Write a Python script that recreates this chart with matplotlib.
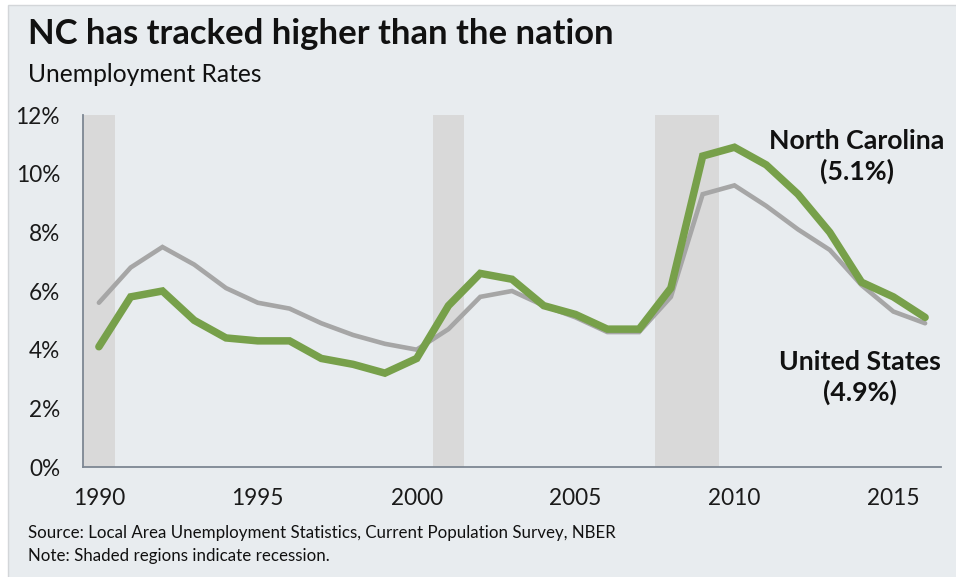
import matplotlib
matplotlib.use("Agg")
import matplotlib.pyplot as plt
from matplotlib.patches import Rectangle

years = list(range(1990, 2017))
nc_rate = [4.1, 5.8, 6.0, 5.0, 4.4, 4.3, 4.3, 3.7, 3.5, 3.2, 3.7, 5.5, 6.6, 6.4,
           5.5, 5.2, 4.7, 4.7, 6.1, 10.6, 10.9, 10.3, 9.3, 8.0, 6.3, 5.8, 5.1]
us_rate = [5.6, 6.8, 7.5, 6.9, 6.1, 5.6, 5.4, 4.9, 4.5, 4.2, 4.0, 4.7, 5.8, 6.0,
           5.5, 5.1, 4.6, 4.6, 5.8, 9.3, 9.6, 8.9, 8.1, 7.4, 6.2, 5.3, 4.9]
recessions = [(1989.5, 1990.5), (2000.5, 2001.5), (2007.5, 2009.5)]
y_ticks = [0, 2, 4, 6, 8, 10, 12]
x_ticks = [1990, 1995, 2000, 2005, 2010, 2015]

title = "NC has tracked higher than the nation"
subtitle = "Unemployment Rates"
source = "Source: Local Area Unemployment Statistics, Current Population Survey, NBER"
note = "Note: Shaded regions indicate recession."

plt.rcParams['font.family'] = ['Lato', 'DejaVu Sans']

W, H = 956, 577
fig = plt.figure(figsize=(W / 100, H / 100), dpi=100)
fig.patch.set_facecolor('white')
panel = Rectangle((8 / W, -0.01), 1, 1 - 5 / H + 0.01, transform=fig.transFigure,
                  facecolor='#E8ECEF', edgecolor='#D3D6D9', linewidth=1, zorder=-10)
fig.patches.append(panel)

ax = fig.add_axes([83 / W, 1 - 467 / H, (941 - 83) / W, (467 - 115) / H])
ax.set_zorder(5)
ax.set_facecolor('none')

for a, b in recessions:
    ax.axvspan(a, b, color='#D9D9D9', zorder=1, lw=0)

ax.plot(years, us_rate, color='#A6A6A6', lw=3.3, zorder=3, solid_capstyle='round',
        solid_joinstyle='miter')
ax.plot(years, nc_rate, color='#77A04A', lw=5.4, zorder=4, solid_capstyle='round',
        solid_joinstyle='miter')

ax.set_xlim(1989.5, 2016.5)
ax.set_ylim(0, 12)
ax.set_yticks(y_ticks)
ax.set_yticklabels([f"{v}%" for v in y_ticks])
ax.set_xticks(x_ticks)
ax.set_xticklabels([str(v) for v in x_ticks])
ax.tick_params(axis='both', length=0, labelsize=16.3, colors='#1A1A1A')
ax.tick_params(axis='x', pad=15)
ax.tick_params(axis='y', pad=16.5)

for s in ['top', 'right']:
    ax.spines[s].set_visible(False)
for s in ['left', 'bottom']:
    ax.spines[s].set_color('#7D8793')
    ax.spines[s].set_linewidth(1.3)

ax.text(2013.86, 10.59, "North Carolina\n(5.1%)", ha='center', va='center',
        fontsize=19.3, fontweight='bold', color='#111111', linespacing=1.3)
ax.text(2013.95, 3.05, "United States\n(4.9%)", ha='center', va='center',
        fontsize=19.3, fontweight='bold', color='#111111', linespacing=1.3)

fig.text(28 / W, 1 - 44 / H, title, fontsize=24.9, fontweight='bold', color='#111111',
         ha='left', va='baseline')
fig.text(28 / W, 1 - 82 / H, subtitle, fontsize=17.7, color='#111111',
         ha='left', va='baseline')
fig.text(28 / W, 1 - 538 / H, source, fontsize=12.2, color='#111111',
         ha='left', va='baseline')
fig.text(28 / W, 1 - 561 / H, note, fontsize=12.2, color='#111111',
         ha='left', va='baseline')

fig.savefig("out.png", dpi=100, facecolor='white')
